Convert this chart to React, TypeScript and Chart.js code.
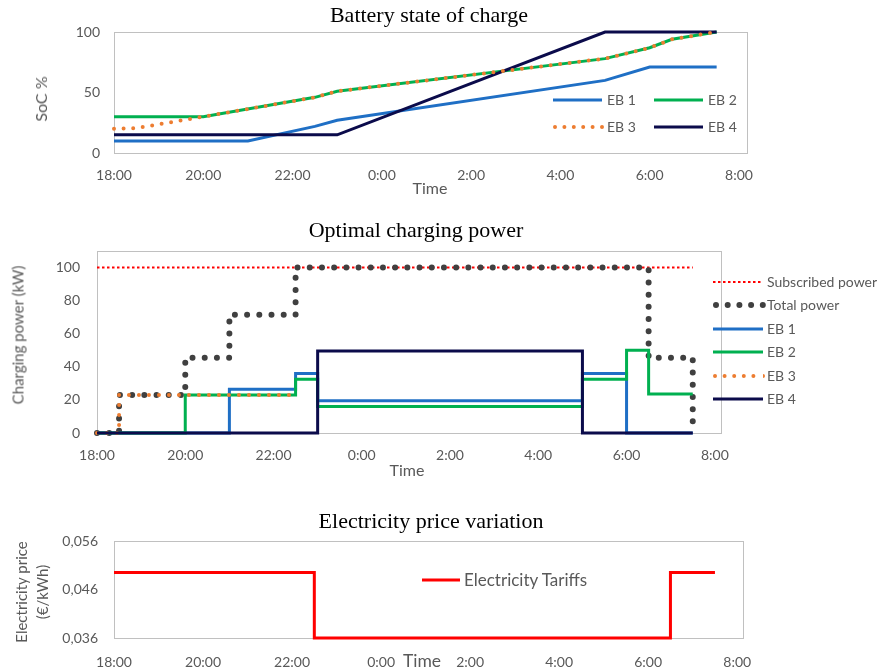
import React, { useEffect, useRef } from 'react';
import { Chart, registerables } from 'chart.js';

Chart.register(...registerables);

const SANS = 'Lato, "Open Sans", "Liberation Sans", sans-serif';
const SERIF = '"Liberation Serif", "DejaVu Serif", serif';
const TEXT = '#595959';
const FRAME = '#C0C0C0';

const C_EB1 = '#1F6FC5';
const C_EB2 = '#00B050';
const C_EB3 = '#ED7D31';
const C_EB4 = '#0B0B4B';
const C_TOTAL = '#404040';
const C_RED = '#FF0000';

// x axis: hours elapsed since 18:00
const timeTicks = [0, 2, 4, 6, 8, 10, 12, 14];
const timeTickLabels = ['18:00', '20:00', '22:00', '0:00', '2:00', '4:00', '6:00', '8:00'];

// Battery state of charge (%)
const socTicks = [0, 50, 100];
const socEB1Hours = [0, 3, 4.5, 5, 11, 12, 13.5];
const socEB1 = [10, 10, 22, 27, 60, 71, 71];
const socEB2Hours = [0, 2, 4.5, 5, 11, 12, 12.5, 13.5];
const socEB2 = [30, 30, 46, 51, 78, 87, 94, 100];
const socEB3Hours = [0, 0.5, 2, 4.5, 5, 11, 12, 12.5, 13.5];
const socEB3 = [20, 20.5, 30, 46, 51, 78, 87, 94, 100];
const socEB4Hours = [0, 5, 11, 13.5];
const socEB4 = [15, 15, 100, 100];

// Optimal charging power (kW), values hold from each hour until the next
const powerTicks = [0, 20, 40, 60, 80, 100];
const subscribedHours = [0, 13.5];
const subscribedPower = [100, 100];
const totalHours = [0, 0.5, 2, 3, 4.5, 12.5, 13.5];
const totalPower = [0, 23, 45.5, 71.5, 100, 45.5, 0];
const powerEB1Hours = [0, 3, 4.5, 5, 11, 12, 13.5];
const powerEB1 = [0, 26.5, 36, 19.5, 36, 0, 0];
const powerEB2Hours = [0, 2, 4.5, 5, 11, 12, 12.5, 13.5];
const powerEB2 = [0, 23, 32.5, 16, 32.5, 50, 23.5, 23.5];
const powerEB3Hours = [0, 0.5, 4.5];
const powerEB3 = [0, 23, 23];
const powerEB4Hours = [0, 5, 11, 13.5];
const powerEB4 = [0, 49.5, 0, 0];

// Electricity price (€/kWh)
const priceTicks = [0.036, 0.046, 0.056];
const priceHours = [0, 4.5, 12.5, 13.5];
const priceValues = [0.0495, 0.036, 0.0495, 0.0495];

const pts = (xs: number[], ys: number[]) => xs.map((x, i) => ({ x, y: ys[i] }));

const framePlugin = {
  id: 'frame',
  beforeDatasetsDraw(chart: any) {
    const { ctx, chartArea: a } = chart;
    ctx.save();
    ctx.strokeStyle = FRAME;
    ctx.lineWidth = 1;
    ctx.strokeRect(Math.round(a.left) + 0.5, Math.round(a.top) + 0.5, Math.round(a.right - a.left), Math.round(a.bottom - a.top));
    ctx.restore();
  },
};

type Opt = {
  xMax: number;
  yMin: number;
  yMax: number;
  yTicks: number[];
  yFormat: (v: number) => string;
  yWidth: number;
  yPad: number;
  xHeight: number;
  xPad: number;
  padTop: number;
  padRight: number;
};

function buildOptions(o: Opt): any {
  return {
    responsive: false,
    animation: false,
    layout: { padding: { top: o.padTop, right: o.padRight, left: 0, bottom: 0 } },
    plugins: { legend: { display: false }, tooltip: { enabled: false }, title: { display: false } },
    elements: { point: { radius: 0 } },
    scales: {
      x: {
        type: 'linear',
        min: 0,
        max: o.xMax,
        grid: { display: false, drawTicks: false },
        border: { display: false },
        ticks: {
          padding: o.xPad,
          color: TEXT,
          font: { family: SANS, size: 14 },
          maxRotation: 0,
          autoSkip: false,
          callback: (v: number) => {
            const i = timeTicks.indexOf(v);
            return i >= 0 ? timeTickLabels[i] : '';
          },
        },
        afterBuildTicks: (s: any) => {
          s.ticks = timeTicks.map((value) => ({ value }));
        },
        afterFit: (s: any) => {
          s.height = o.xHeight;
        },
      },
      y: {
        type: 'linear',
        min: o.yMin,
        max: o.yMax,
        grid: { display: false, drawTicks: false },
        border: { display: false },
        ticks: {
          padding: o.yPad,
          color: TEXT,
          font: { family: SANS, size: 14 },
          autoSkip: false,
          callback: (v: number) => o.yFormat(v),
        },
        afterBuildTicks: (s: any) => {
          s.ticks = o.yTicks.map((value) => ({ value }));
        },
        afterFit: (s: any) => {
          s.width = o.yWidth;
        },
      },
    },
  };
}

function line(label: string, data: any[], color: string, width: number, extra: any = {}) {
  return {
    label,
    data,
    borderColor: color,
    backgroundColor: color,
    borderWidth: width,
    pointRadius: 0,
    fill: false,
    tension: 0,
    clip: false,
    borderJoinStyle: 'miter',
    ...extra,
  };
}

function socConfig(): any {
  return {
    type: 'line',
    data: {
      datasets: [
        line('EB 3', pts(socEB3Hours, socEB3), C_EB3, 4, { borderDash: [0, 9.6], borderCapStyle: 'round', order: 0 }),
        line('EB 4', pts(socEB4Hours, socEB4), C_EB4, 3, { order: 1 }),
        line('EB 2', pts(socEB2Hours, socEB2), C_EB2, 3, { order: 2 }),
        line('EB 1', pts(socEB1Hours, socEB1), C_EB1, 3, { order: 3 }),
      ],
    },
    options: buildOptions({
      xMax: 14.18,
      yMin: 0,
      yMax: 100,
      yTicks: socTicks,
      yFormat: (v) => String(v),
      yWidth: 114,
      yPad: 14,
      xHeight: 47,
      xPad: 14,
      padTop: 32,
      padRight: 131,
    }),
    plugins: [framePlugin],
  };
}

function powerConfig(): any {
  return {
    type: 'line',
    data: {
      datasets: [
        line('EB 4', pts(powerEB4Hours, powerEB4), C_EB4, 3, { stepped: 'before', order: 0 }),
        line('EB 3', pts(powerEB3Hours, powerEB3), C_EB3, 4, { stepped: 'before', borderDash: [0, 10], borderCapStyle: 'round', order: 1 }),
        line('EB 2', pts(powerEB2Hours, powerEB2), C_EB2, 3, { stepped: 'before', order: 2 }),
        line('EB 1', pts(powerEB1Hours, powerEB1), C_EB1, 3, { stepped: 'before', order: 3 }),
        line('Total power', pts(totalHours, totalPower), C_TOTAL, 6, { stepped: 'before', borderDash: [0, 12.2], borderCapStyle: 'round', order: 4 }),
        line('Subscribed power', pts(subscribedHours, subscribedPower), C_RED, 2, { borderDash: [2.5, 2.5], order: 5 }),
      ],
    },
    options: buildOptions({
      xMax: 14.14,
      yMin: 0,
      yMax: 110,
      yTicks: powerTicks,
      yFormat: (v) => String(v),
      yWidth: 97,
      yPad: 17,
      xHeight: 57,
      xPad: 14,
      padTop: 51,
      padRight: 157,
    }),
    plugins: [framePlugin],
  };
}

function priceConfig(): any {
  return {
    type: 'line',
    data: {
      datasets: [
        line('Electricity Tariffs', pts(priceHours, priceValues), C_RED, 3, { stepped: 'before' }),
      ],
    },
    options: buildOptions({
      xMax: 14.13,
      yMin: 0.036,
      yMax: 0.056,
      yTicks: priceTicks,
      yFormat: (v) => v.toFixed(3).replace('.', ','),
      yWidth: 114,
      yPad: 16,
      xHeight: 34,
      xPad: 16,
      padTop: 51,
      padRight: 135,
    }),
    plugins: [framePlugin],
  };
}

function ChartBox({ top, height, make }: { top: number; height: number; make: () => any }) {
  const ref = useRef<HTMLCanvasElement | null>(null);
  useEffect(() => {
    const chart = new Chart(ref.current as HTMLCanvasElement, make());
    return () => chart.destroy();
  }, []);
  return (
    <canvas
      ref={ref}
      width={878}
      height={height}
      style={{ position: 'absolute', left: 0, top, width: 878, height, display: 'block' }}
    />
  );
}

function Title({ text, cx, baseline }: { text: string; cx: number; baseline: number }) {
  return (
    <div
      style={{
        position: 'absolute',
        left: cx,
        top: baseline - 18.4,
        transform: 'translateX(-50%)',
        fontFamily: SERIF,
        fontSize: 22,
        lineHeight: '22px',
        color: '#000',
        whiteSpace: 'nowrap',
      }}
    >
      {text}
    </div>
  );
}

function Label({ text, cx, cy, size = 15, rotate = false, lh }: { text: React.ReactNode; cx: number; cy: number; size?: number; rotate?: boolean; lh?: number }) {
  return (
    <div
      style={{
        position: 'absolute',
        left: cx,
        top: cy,
        transform: `translate(-50%, -50%)${rotate ? ' rotate(-90deg)' : ''}`,
        fontFamily: SANS,
        fontSize: size,
        lineHeight: `${lh ?? size + 2}px`,
        color: TEXT,
        whiteSpace: 'nowrap',
        textAlign: 'center',
      }}
    >
      {text}
    </div>
  );
}

function LegendText({ text, x, y, size = 14 }: { text: string; x: number; y: number; size?: number }) {
  return (
    <div
      style={{
        position: 'absolute',
        left: x,
        top: y - 10,
        fontFamily: SANS,
        fontSize: size,
        lineHeight: '20px',
        color: TEXT,
        whiteSpace: 'nowrap',
      }}
    >
      {text}
    </div>
  );
}

type Sample = { x1: number; x2: number; y: number; color: string; width: number; dash?: string; cap?: 'round' | 'butt' };

const legendSamples: Sample[] = [
  // chart 1
  { x1: 553, x2: 602, y: 100, color: C_EB1, width: 3 },
  { x1: 654, x2: 703, y: 100, color: C_EB2, width: 3 },
  { x1: 555, x2: 602, y: 127, color: C_EB3, width: 4, dash: '0 9.4', cap: 'round' },
  { x1: 654, x2: 703, y: 127, color: C_EB4, width: 3 },
  // chart 2
  { x1: 713, x2: 763, y: 282, color: C_RED, width: 2, dash: '2.5 2.5' },
  { x1: 716, x2: 763, y: 305, color: C_TOTAL, width: 6, dash: '0 11.7', cap: 'round' },
  { x1: 713, x2: 763, y: 329, color: C_EB1, width: 3 },
  { x1: 713, x2: 763, y: 352, color: C_EB2, width: 3 },
  { x1: 715, x2: 763, y: 376, color: C_EB3, width: 4, dash: '0 9.6', cap: 'round' },
  { x1: 713, x2: 763, y: 399, color: C_EB4, width: 3 },
  // chart 3
  { x1: 422, x2: 460, y: 580, color: C_RED, width: 3 },
];

export default function App() {
  return (
    <div style={{ position: 'absolute', left: 0, top: 0, width: 878, height: 672, background: '#fff', overflow: 'hidden' }}>
      <ChartBox top={0} height={200} make={socConfig} />
      <ChartBox top={200} height={290} make={powerConfig} />
      <ChartBox top={490} height={182} make={priceConfig} />

      <Title text="Battery state of charge" cx={429} baseline={22} />
      <Title text="Optimal charging power" cx={416} baseline={237} />
      <Title text="Electricity price variation" cx={431} baseline={528} />

      <Label text="SoC %" cx={41} cy={99} size={16} rotate />
      <Label text="Time" cx={430} cy={188} size={16} />
      <Label text="Charging power (kW)" cx={18} cy={335} size={15} rotate />
      <Label text="Time" cx={407} cy={470} size={16} />
      <Label
        text={
          <>
            Electricity price
            <br />
            (€/kWh)
          </>
        }
        cx={31.5}
        cy={592}
        size={15}
        lh={21}
        rotate
      />
      <Label text="Time" cx={422} cy={661} size={17.5} />

      <svg width={878} height={672} style={{ position: 'absolute', left: 0, top: 0, pointerEvents: 'none' }}>
        {legendSamples.map((s, i) => (
          <line
            key={i}
            x1={s.x1}
            x2={s.x2}
            y1={s.y}
            y2={s.y}
            stroke={s.color}
            strokeWidth={s.width}
            strokeDasharray={s.dash}
            strokeLinecap={s.cap ?? 'butt'}
          />
        ))}
      </svg>

      <LegendText text="EB 1" x={607} y={100} />
      <LegendText text="EB 2" x={708} y={100} />
      <LegendText text="EB 3" x={607} y={127} />
      <LegendText text="EB 4" x={708} y={127} />

      <LegendText text="Subscribed power" x={767} y={282} />
      <LegendText text="Total power" x={767} y={305} />
      <LegendText text="EB 1" x={767} y={329} />
      <LegendText text="EB 2" x={767} y={352} />
      <LegendText text="EB 3" x={767} y={376} />
      <LegendText text="EB 4" x={767} y={399} />

      <LegendText text="Electricity Tariffs" x={464} y={580} size={17} />
    </div>
  );
}
